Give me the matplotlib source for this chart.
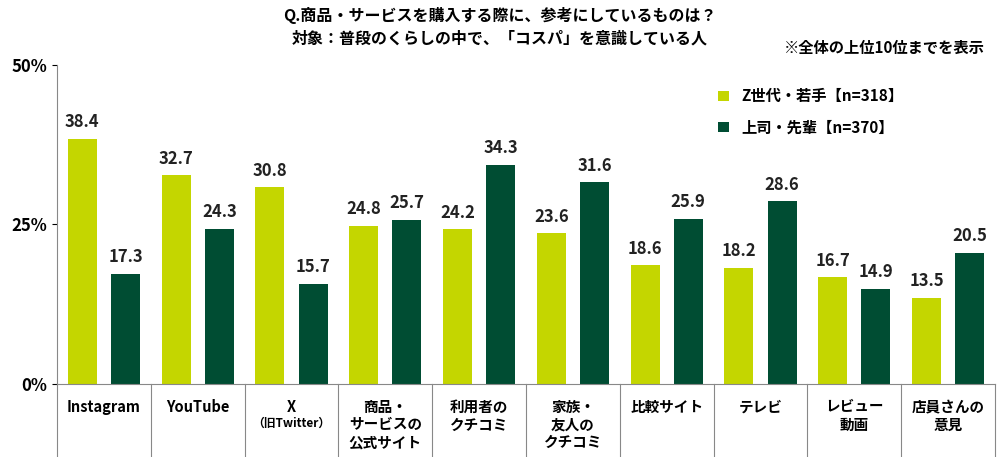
import matplotlib
matplotlib.use("Agg")
import matplotlib.pyplot as plt
import numpy as np

plt.rcParams['font.family'] = ['Noto Sans CJK JP', 'DejaVu Sans']

categories = ["Instagram", "YouTube", "X\n（旧Twitter）", "商品・\nサービスの\n公式サイト", "利用者の\nクチコミ",
              "家族・\n友人の\nクチコミ", "比較サイト", "テレビ", "レビュー\n動画", "店員さんの\n意見"]
genz = [38.4, 32.7, 30.8, 24.8, 24.2, 23.6, 18.6, 18.2, 16.7, 13.5]
boss = [17.3, 24.3, 15.7, 25.7, 34.3, 31.6, 25.9, 28.6, 14.9, 20.5]
series_names = ["Z世代・若手【n=318】", "上司・先輩【n=370】"]
colors = ["#c4d600", "#004d33"]

fig = plt.figure(figsize=(10, 4.57), dpi=100)
ax = fig.add_axes([0.057, 0.160, 0.938, 0.698])
x = np.arange(len(categories))
w = 0.31
off = 0.23
b1 = ax.bar(x - off, genz, w, color=colors[0], label=series_names[0])
b2 = ax.bar(x + off, boss, w, color=colors[1], label=series_names[1])
for bars, vals in ((b1, genz), (b2, boss)):
    for r, v in zip(bars, vals):
        ax.text(r.get_x() + r.get_width()/2, v + 1.2, f"{v:.1f}", ha='center', va='bottom',
                fontsize=12, fontweight='bold', color='#222')
ax.set_xlim(-0.5, len(categories) - 0.5)
ax.set_ylim(0, 50)
ax.set_yticks([0, 25, 50])
ax.set_yticklabels(["0%", "25%", "50%"], fontsize=12, fontweight='bold')
ax.set_xticks([])
for s in ['top', 'right']:
    ax.spines[s].set_visible(False)
for s in ['left', 'bottom']:
    ax.spines[s].set_color('#888')
for i in range(len(categories) + 1):
    ax.plot([i - 0.5, i - 0.5], [0, -11.5], color='#888', lw=0.8, clip_on=False)
for i, c in enumerate(categories):
    lines = c.split("\n")
    for j, ln in enumerate(lines):
        fs = 8.5 if ln.startswith("（") else 10.5
        ax.text(i, -2.3 - j * 2.8, ln, ha='center', va='top', fontsize=fs, fontweight='bold',
                clip_on=False, linespacing=1.0)
ax.legend(loc='upper left', bbox_to_anchor=(0.69, 0.97), frameon=False,
          prop={'weight': 'bold', 'size': 11}, handlelength=0.7, handleheight=0.7, labelspacing=1.0)
fig.text(0.5, 0.965, "Q.商品・サービスを購入する際に、参考にしているものは？", ha='center', va='center',
         fontsize=11.5, fontweight='bold')
fig.text(0.5, 0.915, "対象：普段のくらしの中で、「コスパ」を意識している人", ha='center', va='center',
         fontsize=11.5, fontweight='bold')
fig.text(0.985, 0.895, "※全体の上位10位までを表示", ha='right', va='center', fontsize=11, fontweight='bold')
fig.savefig("out.png", dpi=100)
